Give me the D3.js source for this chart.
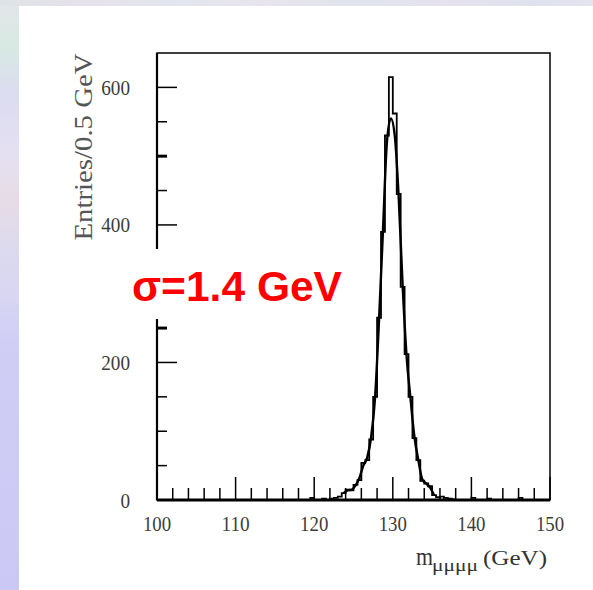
<!DOCTYPE html>
<html>
<head>
<meta charset="utf-8">
<script src="https://cdn.jsdelivr.net/npm/d3@7"></script>
<style>
  body { margin: 0; background: #fff; }
  svg { display: block; }
</style>
</head>
<body>
<svg id="chart" width="593" height="590"></svg>
<script>
// histogram: 0.5 GeV bins starting at 100 GeV
const binStart = 100;
const binWidth = 0.5;
const binCounts = [
    0, 0, 0, 0, 0, 0, 0, 0, 0, 0,          // 100 - 104.5
    0, 0, 0, 0, 0, 0, 0, 0, 0, 0,          // 105 - 109.5
    0, 0, 0, 0, 0, 0, 0, 0, 0, 0,          // 110 - 114.5
    0, 0, 0, 0, 0, 0, 0, 0, 0, 3,          // 115 - 119.5
    0, 0, 2, 0, 2, 3, 5, 10, 15, 14,       // 120 - 124.5
    22, 29, 54, 58, 88, 150, 265, 390, 530, 615,   // 125 - 129.5
    562, 445, 310, 212, 150, 90, 58, 28, 24, 20,   // 130 - 134.5
    7, 4, 5, 3, 2, 1, 0, 0, 0, 0,          // 135 - 139.5
    3, 0, 0, 0, 2, 0, 0, 0, 0, 0,          // 140 - 144.5
    0, 0, 3, 0, 0, 0, 0, 0, 0, 0           // 145 - 149.5
];

// second (overlaid) curve
const fitMass = [123.75, 124.25, 124.75, 125.25, 125.75, 126.25, 126.75, 127.25, 127.75, 128.25, 128.75,
                 129.25, 129.75, 130.25, 130.75, 131.25, 131.75, 132.25, 132.75, 133.25, 133.75, 134.25, 134.75, 135.25];
const fitVal  = [10, 14, 15, 21, 32, 50, 62, 92, 150, 262, 392,
                 520, 555, 530, 440, 312, 210, 148, 92, 58, 30, 24, 18, 7];

const xTicksMajor = [100, 110, 120, 130, 140, 150];
const yTicksMajor = [0, 200, 400, 600];
const yLabel = "Entries/0.5 GeV";
const sigmaText = "σ=1.4 GeV";

const svg = d3.select("#chart");
const W = 593, H = 590;

// ---- slide background ----
const defs = svg.append("defs");
const gl = defs.append("linearGradient").attr("id", "leftStrip")
    .attr("x1", 0).attr("y1", 0).attr("x2", 0).attr("y2", 1);
[[0, "#e3e6ea"], [0.08, "#d7e9e2"], [0.16, "#dcdcf0"], [0.26, "#e4e0f2"], [0.34, "#e6dce6"],
 [0.42, "#dcdaee"], [0.5, "#d8d6f2"], [0.58, "#d0cef5"], [1, "#cbc8f5"]]
    .forEach(s => gl.append("stop").attr("offset", s[0]).attr("stop-color", s[1]));
const gt = defs.append("linearGradient").attr("id", "topStrip")
    .attr("x1", 0).attr("y1", 0).attr("x2", 1).attr("y2", 0);
[[0, "#dfe3e6"], [0.15, "#e6e2ea"], [0.3, "#e2e6ee"], [0.45, "#e8e4ee"], [0.6, "#e0e4ec"],
 [0.75, "#e6e2ee"], [0.9, "#dfe2ee"], [1, "#e4e4ee"]]
    .forEach(s => gt.append("stop").attr("offset", s[0]).attr("stop-color", s[1]));

svg.append("rect").attr("x", 0).attr("y", 0).attr("width", W).attr("height", H).attr("fill", "url(#leftStrip)");
svg.append("rect").attr("x", 0).attr("y", 0).attr("width", W).attr("height", 6).attr("fill", "url(#topStrip)");
svg.append("rect").attr("x", 19).attr("y", 6).attr("width", W - 19).attr("height", H - 6).attr("fill", "#fff");

// ---- scales ----
const x = d3.scaleLinear().domain([100, 150]).range([157, 550]);
const y = d3.scaleLinear().domain([0, 650]).range([500, 53]);

const g = svg.append("g");

// frame
g.append("rect")
    .attr("x", x(100)).attr("y", y(650))
    .attr("width", x(150) - x(100)).attr("height", y(0) - y(650))
    .attr("fill", "none").attr("stroke", "#000").attr("stroke-width", 1.5);

// x ticks (inward)
const xMinor = d3.range(100, 150.01, 2);
g.selectAll(".xt").data(xMinor).enter().append("line")
    .attr("x1", d => x(d)).attr("x2", d => x(d))
    .attr("y1", y(0))
    .attr("y2", d => xTicksMajor.includes(d) ? y(0) - 23 : y(0) - 12)
    .attr("stroke", "#000").attr("stroke-width", 1.5);

// y ticks (inward)
const yMinor = d3.range(0, 650, 50);
g.selectAll(".yt").data(yMinor).enter().append("line")
    .attr("y1", d => y(d)).attr("y2", d => y(d))
    .attr("x1", x(100))
    .attr("x2", d => yTicksMajor.includes(d) ? x(100) + 20 : x(100) + 10)
    .attr("stroke", "#000").attr("stroke-width", d => (d === 250 || d === 500) ? 3 : 1.5);

// histogram outline
const steps = [];
binCounts.forEach((c, i) => {
    const lo = binStart + i * binWidth;
    steps.push([lo, c], [lo + binWidth, c]);
});
const histLine = d3.line().x(d => x(d[0])).y(d => y(d[1]));
g.append("path")
    .attr("d", histLine(steps))
    .attr("fill", "none").attr("stroke", "#000").attr("stroke-width", 1.8);

// thick bottom axis line over the zero level
g.append("line")
    .attr("x1", x(100)).attr("x2", x(150)).attr("y1", y(0)).attr("y2", y(0))
    .attr("stroke", "#000").attr("stroke-width", 3);
g.append("line")
    .attr("x1", x(100)).attr("x2", x(100)).attr("y1", y(0)).attr("y2", y(650))
    .attr("stroke", "#000").attr("stroke-width", 2.2);

// overlaid curve
const fitLine = d3.line()
    .x((d, i) => x(fitMass[i]))
    .y(d => y(d))
    .curve(d3.curveMonotoneX);
g.append("path")
    .attr("d", fitLine(fitVal))
    .attr("fill", "none").attr("stroke", "#000").attr("stroke-width", 2.4);

// tick labels
g.selectAll(".xl").data(xTicksMajor).enter().append("text")
    .attr("x", d => x(d)).attr("y", 531)
    .attr("text-anchor", "middle")
    .attr("font-family", "Liberation Serif, Times New Roman, serif")
    .attr("font-size", 22)
    .attr("textLength", d => String(d).length * 9.4)
    .attr("lengthAdjust", "spacingAndGlyphs")
    .attr("fill", "#3c3c3c")
    .text(d => d);

g.selectAll(".yl").data(yTicksMajor).enter().append("text")
    .attr("x", 130).attr("y", d => y(d) + 7.5)
    .attr("text-anchor", "end")
    .attr("font-family", "Liberation Serif, Times New Roman, serif")
    .attr("font-size", 22)
    .attr("textLength", d => String(d).length * 9.6)
    .attr("lengthAdjust", "spacingAndGlyphs")
    .attr("fill", "#3c3c3c")
    .text(d => d);

// y axis title
g.append("text")
    .attr("transform", "translate(92,147) rotate(-90)")
    .attr("text-anchor", "middle")
    .attr("font-family", "Liberation Serif, Times New Roman, serif")
    .attr("font-size", 25)
    .attr("textLength", 187)
    .attr("lengthAdjust", "spacingAndGlyphs")
    .attr("fill", "#555")
    .text(yLabel);

// x axis title: m_{μμμμ} (GeV)
const xt = g.append("g")
    .attr("font-family", "Liberation Serif, Times New Roman, serif")
    .attr("fill", "#333");
xt.append("text").attr("x", 416).attr("y", 565).attr("font-size", 25)
    .attr("textLength", 17).attr("lengthAdjust", "spacingAndGlyphs").text("m");
xt.append("text").attr("x", 432).attr("y", 571).attr("font-size", 17)
    .attr("textLength", 46).attr("lengthAdjust", "spacingAndGlyphs").text("μμμμ");
xt.append("text").attr("x", 483).attr("y", 565).attr("font-size", 22)
    .attr("textLength", 64).attr("lengthAdjust", "spacingAndGlyphs").text("(GeV)");

// sigma annotation with white box over the axis
g.append("rect")
    .attr("x", 130).attr("y", 249).attr("width", 215).attr("height", 70)
    .attr("fill", "#fff");
g.append("text")
    .attr("x", 132).attr("y", 301)
    .attr("font-family", "Liberation Sans, Arial, sans-serif")
    .attr("font-weight", "bold")
    .attr("font-size", 43)
    .attr("textLength", 210)
    .attr("lengthAdjust", "spacingAndGlyphs")
    .attr("fill", "#ff0000")
    .text(sigmaText);
</script>
</body>
</html>
